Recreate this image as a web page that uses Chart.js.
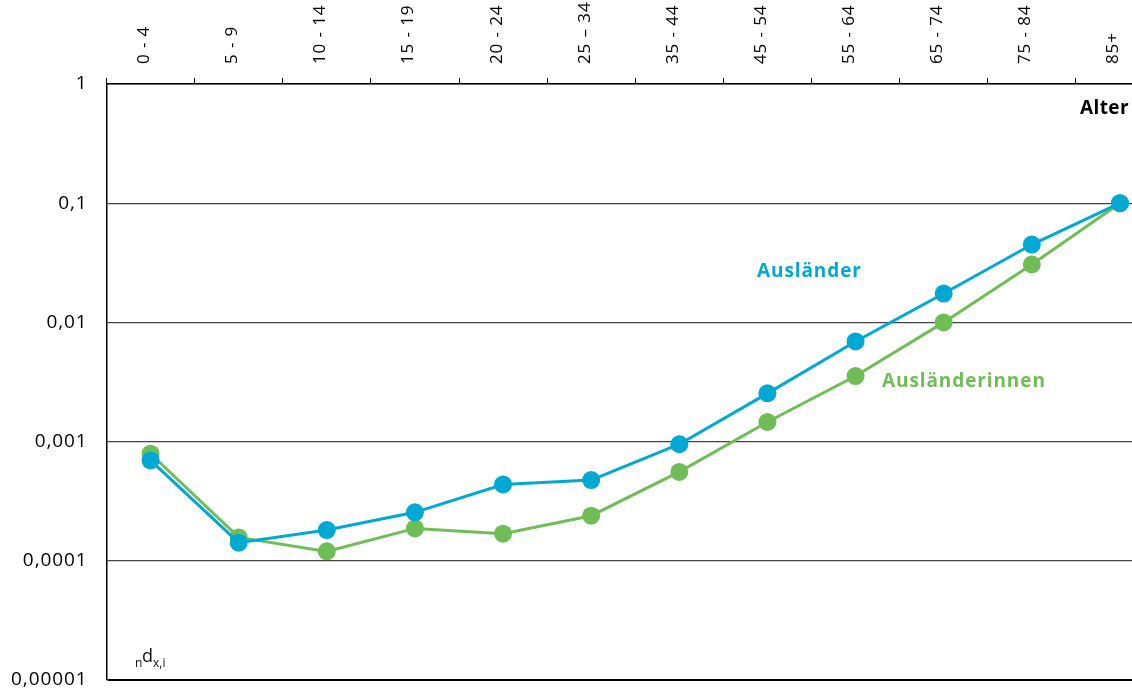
<!DOCTYPE html>
<html><head><meta charset="utf-8">
<script src="https://cdn.jsdelivr.net/npm/chart.js@4.4.1/dist/chart.umd.min.js"></script>
<style>
html,body{margin:0;padding:0;background:#fff;overflow:hidden;}
#wrap{width:1132px;height:691px;overflow:hidden;position:relative;background:#fff;}
canvas{display:block;}
</style></head><body>
<div id="wrap"><canvas id="c" width="1180" height="691" style="width:1180px;height:691px"></canvas></div>
<script>
const ageGroups = ['0 - 4','5 - 9','10 - 14','15 - 19','20 - 24','25 – 34','35 - 44','45 - 54','55 - 64','65 - 74','75 - 84','85+'];
const auslaender = [0.000695, 0.000142, 0.000181, 0.000255, 0.000437, 0.000476, 0.00095, 0.00254, 0.00692, 0.01746, 0.0450, 0.1];
const auslaenderinnen = [0.000791, 0.000157, 0.000120, 0.000187, 0.000169, 0.000239, 0.000557, 0.00146, 0.00355, 0.0100, 0.0306, 0.1];
const yTickValues = [1, 0.1, 0.01, 0.001, 0.0001, 0.00001];
const yTickLabels = ['1', '0,1', '0,01', '0,001', '0,0001', '0,00001'];
const seriesNames = ['Ausländer', 'Ausländerinnen'];
const axisTitle = 'Alter';

const FONT = '"Open Sans", "Noto Sans", sans-serif';
const blue = '#00a9d4', green = '#6fbe55';

const annot = {
  id: 'annot',
  beforeDraw(chart) { chart.ctx.letterSpacing = '0.9px'; },
  afterDraw(chart) {
    const ctx = chart.ctx;
    ctx.save();
    ctx.textBaseline = 'middle';
    ctx.textAlign = 'left';
    ctx.letterSpacing = '0.4px';
    ctx.font = 'bold 19px ' + FONT;
    ctx.fillStyle = '#000';
    ctx.fillText(axisTitle, 1080, 109);
    ctx.letterSpacing = '0.9px';
    ctx.fillStyle = blue; ctx.fillText(seriesNames[0], 757, 272);
    ctx.fillStyle = green; ctx.fillText(seriesNames[1], 882, 382);
    ctx.letterSpacing = '0px';
    ctx.textBaseline = 'alphabetic';
    ctx.fillStyle = '#111';
    ctx.font = '12px ' + FONT; ctx.fillText('n', 135, 667);
    ctx.font = '18px ' + FONT; ctx.fillText('d', 142, 662);
    ctx.font = '12px ' + FONT; ctx.fillText('x,i', 153, 667);
    ctx.restore();
  }
};

new Chart(document.getElementById('c'), {
  type: 'line',
  data: {
    labels: ageGroups,
    datasets: [
      { label: seriesNames[0], data: auslaender, borderColor: blue, backgroundColor: blue,
        borderWidth: 3, pointRadius: 9, pointHoverRadius: 9, pointBorderWidth: 0, tension: 0 },
      { label: seriesNames[1], data: auslaenderinnen, borderColor: green, backgroundColor: green,
        borderWidth: 3, pointRadius: 9, pointHoverRadius: 9, pointBorderWidth: 0, tension: 0 }
    ]
  },
  options: {
    responsive: false, animation: false, devicePixelRatio: 1,
    layout: { padding: { left: 0, top: 0, right: 16, bottom: 11 } },
    plugins: { legend: { display: false }, tooltip: { enabled: false } },
    scales: {
      x: {
        position: 'top', offset: true,
        grid: { offset: true, drawOnChartArea: false, drawTicks: true, tickLength: 6, color: '#000', lineWidth: 1 },
        border: { color: '#000', width: 1.5 },
        ticks: { minRotation: 90, maxRotation: 90, autoSkip: false, padding: 14, labelOffset: 14, color: '#000',
                 font: { family: FONT, size: 17 } },
        afterFit: s => { s.height = 84; s.paddingLeft = 0; s.paddingRight = 0; }
      },
      y: {
        type: 'logarithmic', min: 1e-5, max: 1,
        afterBuildTicks: s => { s.ticks = yTickValues.map(v => ({ value: v })); },
        ticks: { callback: v => yTickLabels[yTickValues.indexOf(v)], padding: 19, color: '#000',
                 font: { family: FONT, size: 19 } },
        grid: { drawTicks: false,
                color: c => (c.tick && c.tick.value === 1e-5) ? '#000' : '#444',
                lineWidth: c => (c.tick && c.tick.value === 1e-5) ? 2 : 1.2 },
        border: { color: '#000', width: 1.5 },
        afterFit: s => { s.width = 106.5; s.paddingTop = 0; s.paddingBottom = 0; }
      }
    }
  },
  plugins: [annot]
});
</script>
</body></html>
